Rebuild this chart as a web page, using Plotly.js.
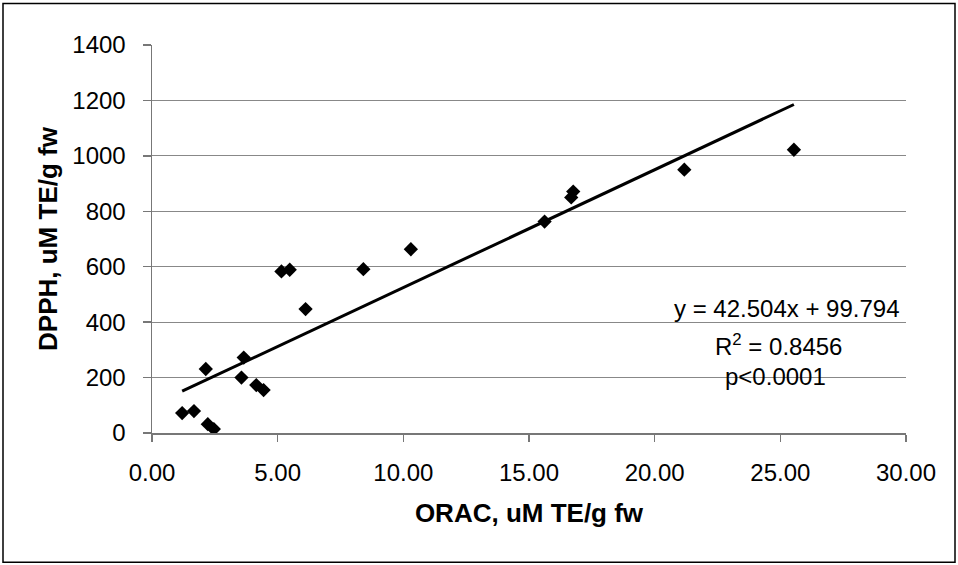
<!DOCTYPE html>
<html>
<head>
<meta charset="utf-8">
<script src="https://cdn.plot.ly/plotly-3.0.1.min.js"></script>
<style>
  html, body { margin: 0; padding: 0; background: #fff; }
  #chart { width: 958px; height: 565px; }
</style>
</head>
<body>
<div id="chart"></div>
<script>
// ORAC (uM TE/g fw) values
const oracValues = [1.2, 1.67, 2.14, 2.22, 2.46, 3.65, 3.56, 4.15, 4.44, 5.15, 5.48, 6.11, 8.41, 10.30, 15.62, 16.68, 16.76, 21.18, 25.54];
// DPPH (uM TE/g fw) values
const dpphValues = [72, 79, 231, 32, 14, 272, 200, 173, 155, 583, 589, 447, 591, 663, 763, 850, 871, 950, 1022];
// Linear trendline reported on the chart
const slope = 42.504;
const intercept = 99.794;
const equationText = "y = 42.504x + 99.794";
const r2Text = "R<sup>2</sup> = 0.8456";
const pText = "p<0.0001";
const xTitle = "ORAC, uM TE/g fw";
const yTitle = "DPPH, uM TE/g fw";
const xTickVals = [0, 5, 10, 15, 20, 25, 30];
const xTickText = ["0.00", "5.00", "10.00", "15.00", "20.00", "25.00", "30.00"];
const yTickVals = [0, 200, 400, 600, 800, 1000, 1200, 1400];

const xMin = Math.min(...oracValues);
const xMax = Math.max(...oracValues);
const trendX = [xMin, xMax];
const trendY = trendX.map(v => slope * v + intercept);

const FONT = "Liberation Sans, Arial, sans-serif";

const traces = [
  {
    x: trendX, y: trendY, type: "scatter", mode: "lines",
    line: { color: "#000", width: 3 }, hoverinfo: "skip", showlegend: false
  },
  {
    x: oracValues, y: dpphValues, type: "scatter", mode: "markers",
    marker: { symbol: "diamond", size: 11, color: "#000" }, showlegend: false
  }
];

const L = 152, R = 52, T = 44.5, B = 131.5;
const W = 958, H = 565;
const pw = W - L - R, ph = H - T - B;
const px = v => (v - L) / pw;
const py = v => (H - B - v) / ph;

const layout = {
  width: W, height: H,
  margin: { l: L, r: R, t: T, b: B, pad: 0 },
  paper_bgcolor: "#fff", plot_bgcolor: "#fff",
  font: { family: FONT, color: "#000", size: 24 },
  showlegend: false,
  xaxis: {
    range: [0, 30], tickvals: xTickVals, ticktext: xTickText,
    showgrid: false, zeroline: false,
    showline: true, linecolor: "#777", linewidth: 1.5,
    ticks: "outside", ticklen: 7, tickcolor: "#777", tickwidth: 1.5,
    tickfont: { family: FONT, size: 24, color: "#000" },
    ticklabelstandoff: 11,
    title: { text: xTitle, font: { family: FONT, size: 26, color: "#000", weight: "bold" }, standoff: 18 }
  },
  yaxis: {
    range: [0, 1400], tickvals: yTickVals,
    showgrid: true, gridcolor: "#888", gridwidth: 1,
    zeroline: false,
    showline: true, linecolor: "#777", linewidth: 1.5,
    ticks: "outside", ticklen: 8, tickcolor: "#777", tickwidth: 1.5,
    tickfont: { family: FONT, size: 24, color: "#000" },
    ticklabelstandoff: 12,
    title: { text: yTitle, font: { family: FONT, size: 26, color: "#000", weight: "bold" }, standoff: 7 }
  },
  annotations: [
    { xref: "paper", yref: "paper", x: px(902), y: py(309), xanchor: "right", yanchor: "middle",
      text: equationText, showarrow: false, font: { family: FONT, size: 24, color: "#000" } },
    { xref: "paper", yref: "paper", x: px(778), y: py(345), xanchor: "center", yanchor: "middle",
      text: r2Text, showarrow: false, font: { family: FONT, size: 24, color: "#000" } },
    { xref: "paper", yref: "paper", x: px(775), y: py(377), xanchor: "center", yanchor: "middle",
      text: pText, showarrow: false, font: { family: FONT, size: 24, color: "#000" } }
  ],
  shapes: [
    { type: "rect", xref: "paper", yref: "paper", layer: "above",
      x0: px(3), x1: px(955), y0: py(563), y1: py(3),
      line: { color: "#000", width: 1.5 }, fillcolor: "rgba(0,0,0,0)" }
  ]
};

Plotly.newPlot("chart", traces, layout, { displayModeBar: false, staticPlot: true });
</script>
</body>
</html>
